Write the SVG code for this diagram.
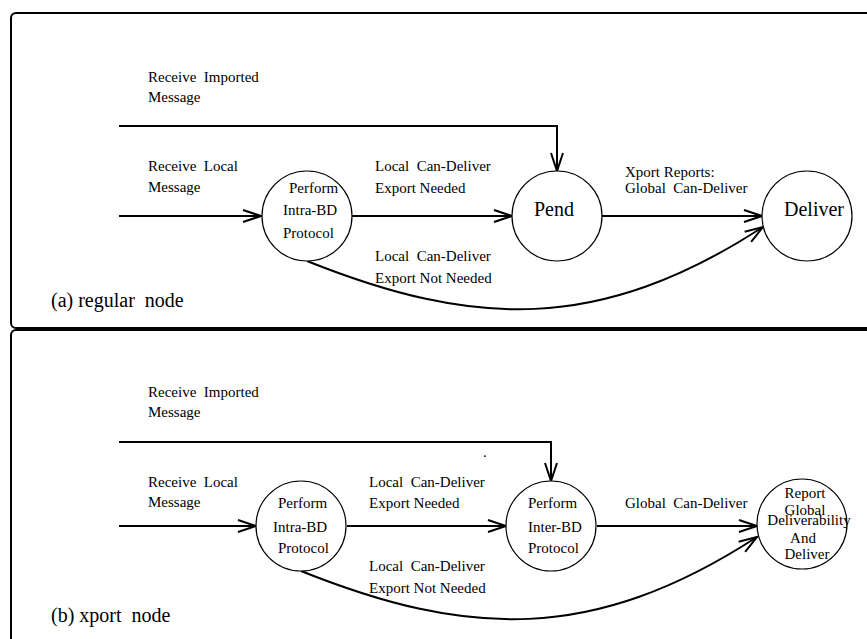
<svg xmlns="http://www.w3.org/2000/svg" width="867" height="639" viewBox="0 0 867 639">
<style>
text { font-family: "Liberation Serif", "Times New Roman", serif; font-size: 15px; fill: #000; white-space: pre; }
.big { font-size: 20px; }
.panel { fill: none; stroke: #000; stroke-width: 2; }
.node { fill: #fff; stroke: #000; stroke-width: 1.2; }
.edge { fill: none; stroke: #000; stroke-width: 2; marker-end: url(#arr); }
.line { fill: none; stroke: #000; stroke-width: 2; }
</style>
<defs>
<marker id="arr" markerUnits="userSpaceOnUse" markerWidth="22" markerHeight="14" refX="18" refY="6" orient="auto" overflow="visible">
<path d="M0,0 L18,6 L0,12" fill="none" stroke="#000" stroke-width="2" stroke-linejoin="miter"/>
</marker>
</defs>
<rect class="panel" x="11" y="13" width="880" height="315" rx="5"/>
<rect class="panel" x="11" y="330" width="880" height="330" rx="5"/>
<g id="connectors">
<path class="edge" d="M119,126 H557 V171"/>
<path class="edge" d="M119,216 H261"/>
<path class="edge" d="M352,216 H512"/>
<path class="edge" d="M602,216 H762"/>
<path class="edge" d="M307,261 C472,327 598,334 763,227"/>
<path class="edge" d="M119,442 H551 V481"/>
<path class="edge" d="M119,526 H256"/>
<path class="edge" d="M347,526 H506"/>
<path class="edge" d="M597,526 H757"/>
<path class="edge" d="M301,571 C466,637 592,644 757,537"/>
</g>
<g id="labels-a">
<text x="148" y="82" xml:space="preserve">Receive  Imported</text>
<text x="148" y="102">Message</text>
<text x="148" y="171" xml:space="preserve">Receive  Local</text>
<text x="148" y="192">Message</text>
<text x="375" y="171" xml:space="preserve">Local  Can-Deliver</text>
<text x="375" y="193">Export Needed</text>
<text x="375" y="261" xml:space="preserve">Local  Can-Deliver</text>
<text x="375" y="283">Export Not Needed</text>
<text x="625" y="177">Xport Reports:</text>
<text x="625" y="193" xml:space="preserve">Global  Can-Deliver</text>
<text class="big" x="51" y="307" xml:space="preserve">(a) regular  node</text>
</g>
<g id="node-a-intra">
<circle class="node" cx="307" cy="216" r="45"/>
<text x="289" y="193">Perform</text>
<text x="283" y="215">Intra-BD</text>
<text x="283" y="238">Protocol</text>
</g>
<g id="node-a-pend">
<circle class="node" cx="557" cy="216" r="45"/>
<text class="big" x="554" y="216" text-anchor="middle">Pend</text>
</g>
<g id="node-a-deliver">
<circle class="node" cx="807" cy="216" r="45"/>
<text class="big" x="814" y="216" text-anchor="middle">Deliver</text>
</g>
<g id="labels-b">
<text x="148" y="397" xml:space="preserve">Receive  Imported</text>
<text x="148" y="417">Message</text>
<text x="148" y="487" xml:space="preserve">Receive  Local</text>
<text x="148" y="507">Message</text>
<text x="369" y="487" xml:space="preserve">Local  Can-Deliver</text>
<text x="369" y="508">Export Needed</text>
<text x="369" y="571" xml:space="preserve">Local  Can-Deliver</text>
<text x="369" y="593">Export Not Needed</text>
<text x="625" y="508" xml:space="preserve">Global  Can-Deliver</text>
<text x="483" y="457">.</text>
<text class="big" x="51" y="622" xml:space="preserve">(b) xport  node</text>
</g>
<g id="node-b-intra">
<circle class="node" cx="301" cy="526" r="45"/>
<text x="278" y="508">Perform</text>
<text x="273" y="532">Intra-BD</text>
<text x="278" y="553">Protocol</text>
</g>
<g id="node-b-inter">
<circle class="node" cx="551" cy="526" r="45"/>
<text x="528" y="508">Perform</text>
<text x="528" y="532">Inter-BD</text>
<text x="528" y="553">Protocol</text>
</g>
<g id="node-b-report">
<circle class="node" cx="802" cy="524" r="45"/>
<text x="805" y="498" text-anchor="middle">Report</text>
<text x="805" y="515" text-anchor="middle">Global</text>
<text x="809" y="525" text-anchor="middle">Deliverability</text>
<text x="803" y="543" text-anchor="middle">And</text>
<text x="807" y="559" text-anchor="middle">Deliver</text>
</g>
</svg>
